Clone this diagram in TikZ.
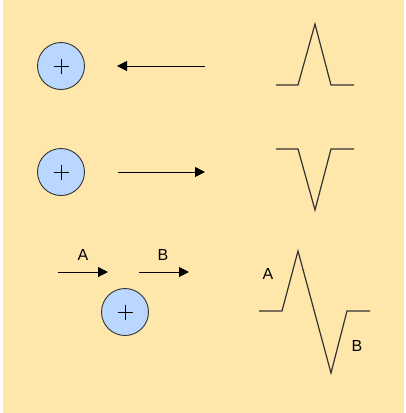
\documentclass[tikz,border=0pt]{standalone}
\usepackage{xcolor}
\usepackage{tikz}
\usetikzlibrary{positioning,arrows.meta}
\usepackage{fontspec}
\setmainfont{Liberation Sans}
\definecolor{cbg}{HTML}{FFE7AC}
\definecolor{ccharge}{HTML}{B9D7FF}
\definecolor{cedge}{HTML}{333333}

\tikzset{
  charge/.style={circle,draw=cedge,fill=ccharge,line width=0.9pt,minimum size=47pt,inner sep=0pt,
    path picture={\draw[line width=0.8pt,black] ([xshift=-7.5pt]path picture bounding box.center) -- ++(15pt,0)
      ([yshift=-7.5pt]path picture bounding box.center) -- ++(0,15pt);}},
  flow/.style={line width=1pt,-{Triangle[length=10pt,width=10pt]}},
  wave/.style={line width=1.2pt,cedge,line join=miter},
  lbl/.style={font=\fontsize{16}{18}\selectfont}
}

\begin{document}
\begin{tikzpicture}[x=1pt,y=-1pt]
    \useasboundingbox (0,0) rectangle (406,413);
    \fill[cbg] (3,0) rectangle (404,413);

    % row 1: charge moving towards the electrode
    \node[charge] (q1) at (61,66) {};
    \coordinate (s1) at (205,66);
    \coordinate (e1) at (117,66);
    \draw[flow] (s1) -- (e1);
    \draw[wave] (276,85) -- (298,85) -- (315,24) -- (331,85) -- (354,85);

    % row 2: charge moving away
    \node[charge] (q2) at (61,172) {};
    \coordinate (s2) at (118,172);
    \coordinate (e2) at (205,172);
    \draw[flow] (s2) -- (e2);
    \draw[wave] (276,149) -- (298,149) -- (315,210) -- (331,149) -- (354,149);

    % row 3: charge passing by
    \coordinate (sa) at (58,272);
    \coordinate (ea) at (108,272);
    \coordinate (sb) at (139,272);
    \coordinate (eb) at (189,272);
    \draw[flow] (sa) -- (ea);
    \draw[flow] (sb) -- (eb);
    \node[lbl] (la) at (83,255) {A};
    \node[lbl] (lb) at (163,255) {B};
    \node[charge] (q3) at (125,312) {};
    \draw[wave] (259,311) -- (282,311) -- (298,251) -- (331,373) -- (347,311) -- (370,311);
    \node[lbl] (wa) at (268,274) {A};
    \node[lbl] (wb) at (357,346) {B};
\end{tikzpicture}
\end{document}
